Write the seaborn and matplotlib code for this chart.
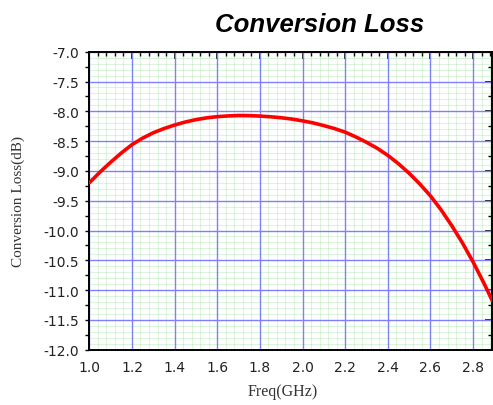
import matplotlib
matplotlib.use("Agg")
import matplotlib.pyplot as plt
import seaborn as sns
import pandas as pd
from matplotlib.ticker import MultipleLocator, FixedLocator, FormatStrFormatter

freq = [1.00, 1.05, 1.10, 1.15, 1.20, 1.25, 1.30, 1.35, 1.40, 1.45,
        1.50, 1.55, 1.60, 1.65, 1.70, 1.75, 1.80, 1.85, 1.90, 1.95,
        2.00, 2.05, 2.10, 2.15, 2.20, 2.25, 2.30, 2.35, 2.40, 2.45,
        2.50, 2.55, 2.60, 2.65, 2.70, 2.75, 2.80, 2.85, 2.89]
loss = [-9.20, -9.02, -8.855, -8.70, -8.56, -8.45, -8.36, -8.29, -8.23, -8.18,
        -8.14, -8.11, -8.09, -8.078, -8.07, -8.072, -8.08, -8.092, -8.108, -8.13,
        -8.16, -8.195, -8.24, -8.29, -8.35, -8.43, -8.52, -8.62, -8.74, -8.88,
        -9.04, -9.22, -9.42, -9.655, -9.92, -10.21, -10.53, -10.88, -11.18]

sns.set_theme(style="white")
plt.rcParams['font.family'] = ['DejaVu Sans']

df = pd.DataFrame({"Freq": freq, "Loss": loss})

fig = plt.figure(figsize=(4.93, 4.06), dpi=100)
ax = fig.add_axes([89.3/493, 1-350.7/406, (491.7-89.3)/493, (350.7-52.7)/406])

sns.lineplot(data=df, x="Freq", y="Loss", ax=ax, color="#ff0000", linewidth=2.6, zorder=5)
for ln in ax.get_lines():
    ln.set_solid_joinstyle('round')
    ln.set_solid_capstyle('round')

ax.set_xlim(1.0, 2.887)
ax.set_ylim(-12.0, -7.0)
ax.xaxis.set_major_locator(MultipleLocator(0.2))
ax.xaxis.set_minor_locator(MultipleLocator(0.04))
ax.yaxis.set_major_locator(MultipleLocator(0.5))
ax.yaxis.set_minor_locator(MultipleLocator(0.1))
ax.xaxis.set_major_formatter(FormatStrFormatter('%.1f'))
ax.yaxis.set_major_formatter(FormatStrFormatter('%.1f'))

ax.grid(which='major', color='#8080ff', linewidth=1.0)
ax.grid(which='minor', color='#00b000', alpha=0.13, linewidth=0.8)
ax.set_axisbelow(True)

for s in ax.spines.values():
    s.set_color('black')
    s.set_linewidth(1.4)

ax.tick_params(axis='both', which='major', direction='out', length=4.5, width=1.2,
               color='black', labelsize=10, labelcolor='#222222', pad=3)
ax.tick_params(axis='y', which='minor', length=0)
ax.tick_params(axis='x', which='minor', direction='out', length=3, width=1.0, color='black')
ax.tick_params(top=False, right=False, which='both')

secx = ax.secondary_xaxis('top')
secx.xaxis.set_major_locator(MultipleLocator(0.2))
secx.xaxis.set_minor_locator(MultipleLocator(0.04))
secx.tick_params(which='major', direction='in', length=5, width=1.2, color='black', labeltop=False)
secx.tick_params(which='minor', direction='in', length=3, width=1.0, color='black')
secx.spines['top'].set_visible(False)
secy = ax.secondary_yaxis('right')
secy.yaxis.set_major_locator(MultipleLocator(0.5))
secy.yaxis.set_minor_locator(MultipleLocator(0.25))
secy.tick_params(which='major', direction='in', length=5, width=1.2, color='black', labelright=False)
secy.tick_params(which='minor', direction='in', length=3, width=1.0, color='black')
secy.spines['right'].set_visible(False)

secl = ax.secondary_yaxis('left')
secl.yaxis.set_major_locator(FixedLocator([]))
secl.yaxis.set_minor_locator(MultipleLocator(0.25))
secl.tick_params(which='minor', direction='out', length=3, width=1.0, color='black')
secl.spines['left'].set_visible(False)

ax.set_xlabel("")
ax.set_ylabel("")
fig.text(18/493, 1-201.7/406, "Conversion Loss(dB)", rotation=90, ha='center', va='center',
         family=['Liberation Serif', 'DejaVu Serif'], fontsize=11, color='#333333')
fig.text(283/493, 1-392/406, "Freq(GHz)", ha='center', va='center',
         family=['Liberation Serif', 'DejaVu Serif'], fontsize=11.5, color='#333333')
fig.text(320/493, 1-25/406, "Conversion Loss", ha='center', va='center',
         family=['Liberation Sans', 'DejaVu Sans'],
         fontsize=18.5, fontweight='bold', fontstyle='italic', color='black')

fig.savefig("out.png", dpi=100)
